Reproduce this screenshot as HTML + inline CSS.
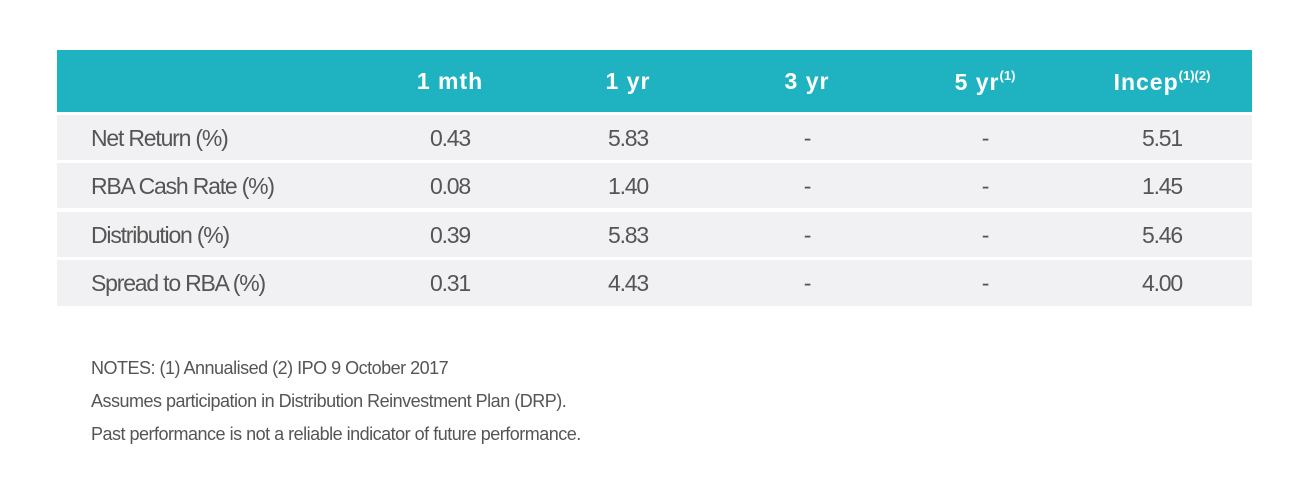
<!DOCTYPE html>
<html><head><meta charset="utf-8"><style>
body{margin:0;width:1305px;height:500px;background:#fff;font-family:"Liberation Sans",sans-serif;position:relative;overflow:hidden}
.hdr{position:absolute;left:57px;top:50px;width:1195px;height:62px;background:#1fb3c2}
.row{position:absolute;left:57px;width:1195px;height:45px;background:#f1f1f3}
.c{position:absolute;transform:translateX(-50%);white-space:nowrap}
.h{color:#fff;font-weight:bold;font-size:23px;top:18px;letter-spacing:1px}
.h sup{font-size:13px;letter-spacing:0;vertical-align:10px}
.t{color:#555;font-size:23px;letter-spacing:-1.2px;top:10px}
.lbl{position:absolute;left:34px;top:10px;color:#555;font-size:23px;letter-spacing:-1.2px}
.note{position:absolute;left:91px;color:#555;font-size:18px;letter-spacing:-0.5px}
</style></head><body>
<div class="hdr">
<span class="c h" style="left:393px">1 mth</span>
<span class="c h" style="left:571px">1 yr</span>
<span class="c h" style="left:750px">3 yr</span>
<span class="c h" style="left:928px">5 yr<sup>(1)</sup></span>
<span class="c h" style="left:1105px">Incep<sup>(1)(2)</sup></span>
</div>
<div class="row" style="top:115px"><span class="lbl">Net Return (%)</span><span class="c t" style="left:393px">0.43</span><span class="c t" style="left:571px">5.83</span><span class="c t" style="left:750px">-</span><span class="c t" style="left:928px">-</span><span class="c t" style="left:1105px">5.51</span></div>
<div class="row" style="top:163px"><span class="lbl">RBA Cash Rate (%)</span><span class="c t" style="left:393px">0.08</span><span class="c t" style="left:571px">1.40</span><span class="c t" style="left:750px">-</span><span class="c t" style="left:928px">-</span><span class="c t" style="left:1105px">1.45</span></div>
<div class="row" style="top:212px"><span class="lbl">Distribution (%)</span><span class="c t" style="left:393px">0.39</span><span class="c t" style="left:571px">5.83</span><span class="c t" style="left:750px">-</span><span class="c t" style="left:928px">-</span><span class="c t" style="left:1105px">5.46</span></div>
<div class="row" style="top:260px;height:46px"><span class="lbl">Spread to RBA (%)</span><span class="c t" style="left:393px">0.31</span><span class="c t" style="left:571px">4.43</span><span class="c t" style="left:750px">-</span><span class="c t" style="left:928px">-</span><span class="c t" style="left:1105px">4.00</span></div>
<div class="note" style="top:358px">NOTES: (1) Annualised (2) IPO 9 October 2017</div>
<div class="note" style="top:391px">Assumes participation in Distribution Reinvestment Plan (DRP).</div>
<div class="note" style="top:424px">Past performance is not a reliable indicator of future performance.</div>
</body></html>
